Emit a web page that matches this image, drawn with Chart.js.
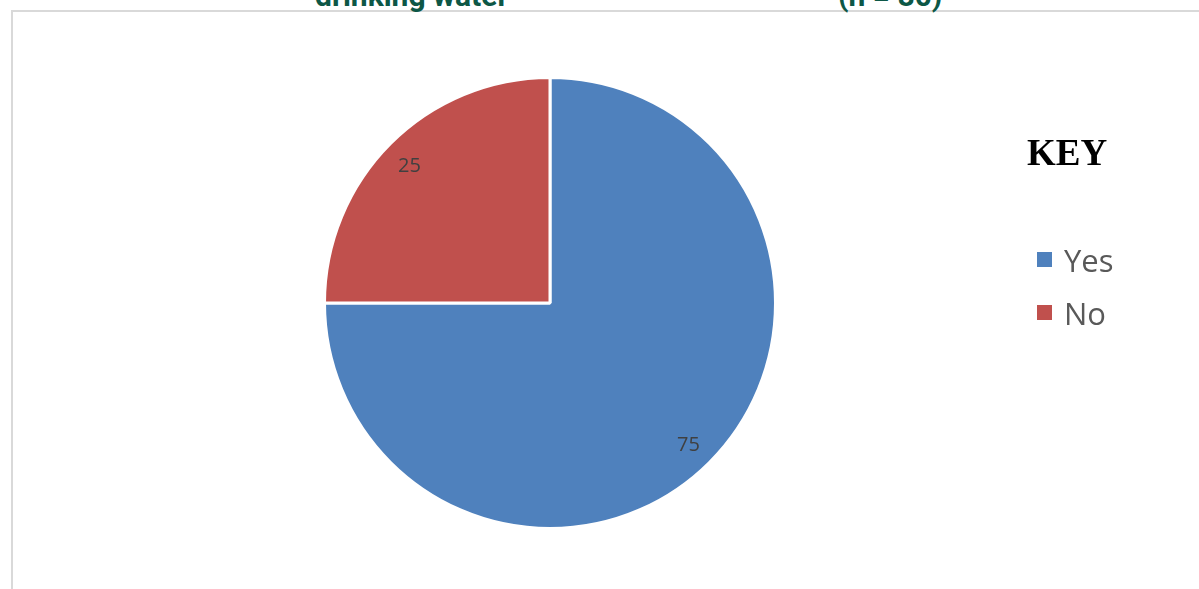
<!DOCTYPE html>
<html>
<head>
<meta charset="utf-8">
<script src="https://cdn.jsdelivr.net/npm/chart.js@4.4.1/dist/chart.umd.min.js"></script>
<style>
  body { margin: 0; background: #fff; width: 1199px; height: 589px; overflow: hidden; position: relative; font-family: "Open Sans", sans-serif; }
  .frame { position: absolute; left: 11px; top: 10px; right: -5px; bottom: -5px; border-left: 2px solid #d9d9d9; border-top: 2px solid #d9d9d9; }
  .title { position: absolute; top: -19px; line-height: 30px; font-weight: bold; font-size: 30px; color: #0d5746; white-space: nowrap; font-family: "Liberation Sans Narrow", "Roboto", sans-serif; }
  #chartWrap { position: absolute; left: 0; top: 0; width: 1199px; height: 589px; }
  .key { position: absolute; left: 1027px; top: 131px; font-family: "Liberation Serif", serif; font-weight: bold; font-size: 37px; color: #000; }
  #legend { position: absolute; left: 1037px; top: 233px; font-family: "Open Sans", sans-serif; font-size: 31px; color: #595959; }
  #legend div { display: flex; align-items: center; height: 53px; }
  #legend span.box { width: 15px; height: 15px; margin-right: 12px; display: inline-block; }
</style>
</head>
<body>
<div class="frame"></div>
<div class="title" style="left:315px">drinking water</div>
<div class="title" style="left:838px">(n = 80)</div>
<div id="chartWrap"><canvas id="pieChart" width="1199" height="589"></canvas></div>
<div class="key">KEY</div>
<div id="legend"></div>
<script>
const categories = ['Yes', 'No'];
const values = [75, 25];
const colors = ['#4f81bd', '#c0504d'];

// draws the number on each slice
const sliceLabels = {
  id: 'sliceLabels',
  afterDatasetsDraw(chart) {
    const ctx = chart.ctx;
    const meta = chart.getDatasetMeta(0);
    ctx.save();
    ctx.font = '20px "Open Sans", sans-serif';
    ctx.fillStyle = '#404040';
    ctx.textAlign = 'center';
    ctx.textBaseline = 'middle';
    meta.data.forEach((arc, i) => {
      const mid = (arc.startAngle + arc.endAngle) / 2;
      const r = arc.outerRadius * 0.875;
      ctx.fillText(values[i], arc.x + Math.cos(mid) * r - 1, arc.y + Math.sin(mid) * r + 3);
    });
    ctx.restore();
  }
};

const chart = new Chart(document.getElementById('pieChart'), {
  type: 'pie',
  data: {
    labels: categories,
    datasets: [{
      data: values,
      backgroundColor: colors,
      borderColor: '#ffffff',
      borderWidth: 3
    }]
  },
  options: {
    responsive: false,
    animation: false,
    layout: { padding: { left: 323, right: 422, top: 76, bottom: 59 } },
    plugins: { legend: { display: false }, tooltip: { enabled: false } }
  },
  plugins: [sliceLabels]
});

const legend = document.getElementById('legend');
categories.forEach((c, i) => {
  const row = document.createElement('div');
  row.innerHTML = '<span class="box" style="background:' + colors[i] + '"></span>' + c;
  legend.appendChild(row);
});
</script>
</body>
</html>
